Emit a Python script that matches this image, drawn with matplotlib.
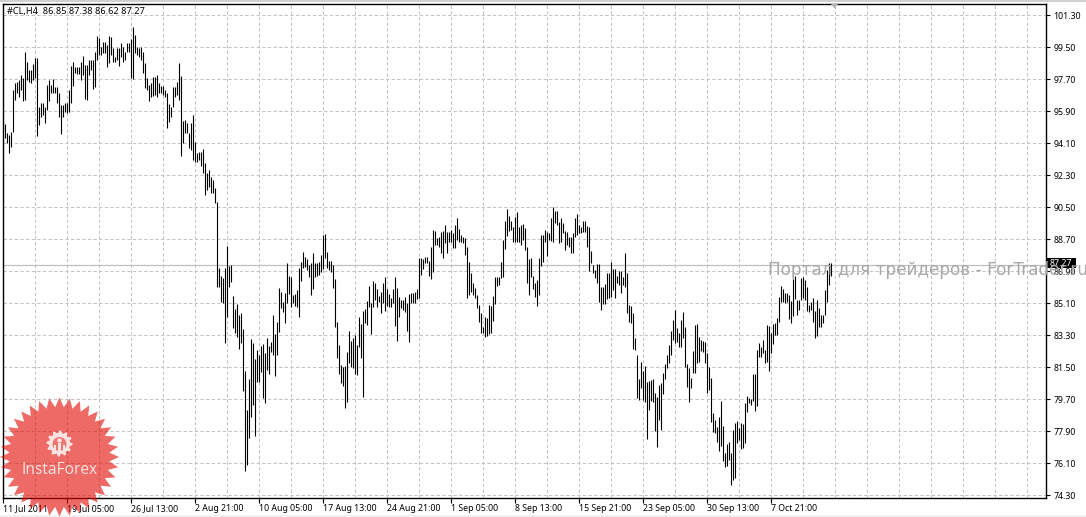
import numpy as np
import matplotlib
matplotlib.use("Agg")
import matplotlib.pyplot as plt
from matplotlib.patches import Polygon, Circle, Rectangle

W, H = 1086, 517
FONT = "Noto Sans"

bar_high = [
95.22,95.18,94.70,94.57,94.75,97.10,97.47,97.57,97.66,97.94,97.75,99.25,98.69,98.22,98.22,98.56,98.88,98.88,96.16,96.35,96.38,96.16,97.38,97.66,97.38,97.72,97.28,97.25,96.91,96.25,96.25,96.35,96.35,97.10,98.45,98.69,98.41,98.41,98.41,98.69,99.01,98.50,98.50,98.78,98.78,98.78,99.25,100.13,100.00,99.53,99.82,99.82,99.63,100.13,100.06,99.44,98.97,99.44,99.44,99.72,99.53,99.25,99.72,99.72,99.95,100.62,100.19,99.53,99.48,99.53,99.25,98.60,97.75,97.38,97.47,97.81,97.85,97.94,97.47,97.32,97.32,97.10,96.91,96.31,96.12,97.25,97.28,97.57,98.63,97.88,95.37,95.41,95.26,94.66,95.22,95.69,94.19,93.57,93.63,93.63,93.76,93.01,92.41,92.60,92.22,92.03,91.57,90.82,
87.07,86.64,86.51,87.07,88.33,87.20,87.26,85.51,84.76,85.06,84.45,84.54,83.64,81.30,79.10,80.83,83.08,82.85,81.95,82.48,82.20,82.70,82.81,82.29,83.13,82.70,82.95,84.45,83.38,84.07,85.95,85.76,85.20,85.70,87.35,86.64,86.56,85.57,85.63,85.85,87.07,87.45,88.01,87.69,87.58,87.26,87.35,87.91,87.35,87.35,87.45,87.82,88.95,89.00,88.01,87.50,87.50,87.26,86.45,84.07,82.76,81.63,81.54,81.58,82.35,83.55,83.00,83.13,83.32,82.76,84.35,83.94,84.69,84.76,85.23,86.08,85.14,86.38,86.26,85.89,85.51,85.76,86.23,86.56,85.89,85.63,85.38,85.89,86.60,85.95,85.48,85.29,85.29,85.44,85.10,85.63,85.66,85.70,85.76,85.89,87.63,87.63,87.58,87.69,87.69,87.50,88.25,89.23,89.19,88.76,88.85,89.13,89.19,89.51,89.13,89.13,89.23,89.04,89.51,89.88,89.26,88.95,88.85,88.76,88.29,87.45,86.79,86.26,85.95,85.57,85.01,
84.57,83.78,84.31,84.25,85.00,84.94,85.51,86.56,86.56,86.56,87.44,88.66,89.74,90.40,90.01,89.74,89.41,89.97,90.25,89.37,89.50,89.56,89.35,88.28,87.57,87.63,86.63,86.26,86.41,87.63,88.94,88.94,89.22,89.13,89.07,89.89,90.53,90.31,90.31,89.69,89.88,89.63,89.18,89.13,88.84,88.84,89.07,89.88,90.12,89.50,89.41,89.73,89.73,89.44,89.37,88.06,87.25,86.97,87.31,87.31,86.03,86.03,86.18,86.82,86.82,87.44,87.01,87.01,86.63,86.91,86.91,86.56,87.94,86.78,85.00,84.94,84.57,83.13,
82.19,80.82,81.78,81.31,81.57,80.69,80.75,80.78,80.82,80.03,79.85,80.50,80.60,81.16,81.68,82.19,82.75,83.54,84.16,84.72,83.69,83.41,84.16,84.63,83.75,81.68,81.44,80.88,82.43,83.88,83.93,83.22,83.03,83.00,82.94,82.28,81.53,80.88,78.95,78.53,78.12,78.72,79.60,78.20,76.70,77.18,77.32,76.70,77.97,78.38,78.48,78.07,78.38,78.31,79.47,79.88,79.79,79.70,81.12,81.12,82.47,82.85,82.62,83.03,82.47,83.88,83.82,83.45,83.93,83.97,84.25,85.47,86.07,85.88,85.70,85.66,85.57,85.25,86.45,86.63,85.28,85.28,86.50,86.56,86.41,86.00,85.00,85.19,85.38,84.68,85.28,84.82,84.44,84.44,85.85,86.97,87.35,87.38,
]
bar_low = [
94.81,94.38,94.10,93.53,93.91,94.75,96.53,96.91,96.72,97.10,96.50,96.53,97.66,97.57,97.47,97.66,97.75,94.51,95.13,95.60,95.69,95.22,95.97,96.48,96.91,96.95,96.91,96.35,95.56,94.62,95.60,95.88,95.82,95.88,96.35,97.34,98.03,98.00,98.00,97.66,97.94,96.57,96.53,97.94,98.22,97.15,97.28,98.78,99.07,99.07,99.16,99.16,98.41,98.60,99.07,98.69,98.69,98.78,98.45,98.97,98.69,98.78,99.25,99.25,97.75,97.72,99.16,99.07,98.97,98.78,98.03,97.19,97.10,96.50,96.72,96.76,96.82,96.72,96.91,96.91,96.82,96.72,94.94,95.32,95.60,96.16,96.72,96.82,96.53,93.40,94.10,94.66,94.66,93.82,93.72,93.16,93.07,93.07,93.16,92.84,92.41,91.19,91.47,91.66,91.28,91.28,90.72,86.04,
86.04,85.20,85.10,82.89,84.35,86.04,86.32,83.70,83.45,83.19,82.51,82.85,80.19,75.69,76.01,77.51,78.69,79.38,77.64,80.70,80.70,81.26,79.76,79.51,81.35,81.13,82.38,82.20,81.03,82.20,83.51,84.82,84.63,84.01,85.10,85.63,84.91,85.10,84.95,84.88,84.35,86.38,87.07,87.16,86.98,86.56,85.57,85.91,86.56,86.64,86.70,86.88,87.01,87.63,87.07,86.98,86.88,85.95,83.79,82.01,81.13,80.60,80.47,79.20,79.57,81.73,81.54,81.45,81.13,81.07,82.66,82.01,79.81,83.98,83.88,84.88,83.38,84.88,85.29,84.91,85.20,84.54,85.14,84.69,84.95,84.91,84.88,85.10,83.83,83.00,84.35,84.82,84.73,84.63,83.56,82.95,85.10,85.10,85.14,85.33,85.38,86.70,87.01,87.35,87.35,86.64,86.45,86.88,88.38,88.38,88.29,87.91,87.63,88.48,87.91,88.57,88.57,88.20,88.20,88.66,88.57,88.57,88.48,87.82,85.38,85.57,85.76,85.57,85.38,84.82,84.07,
83.44,83.44,83.18,83.26,83.37,83.41,84.12,85.06,86.07,86.13,86.50,86.56,88.13,88.88,89.18,89.22,88.56,88.56,88.56,88.56,88.38,88.66,88.09,86.26,85.56,86.56,85.88,85.43,84.96,85.56,87.19,87.44,88.56,87.76,88.66,88.62,88.56,89.59,89.50,88.47,88.56,89.07,88.09,88.38,88.24,87.91,87.94,88.84,88.94,89.03,89.03,89.13,89.13,88.28,86.93,87.38,86.78,86.50,86.26,85.19,84.72,85.06,85.06,85.32,85.38,85.47,85.84,85.38,86.22,86.13,85.69,86.13,85.99,84.57,84.06,84.01,82.51,82.47,
79.75,79.66,80.32,79.66,79.57,77.47,79.10,79.62,79.53,77.93,77.03,78.53,77.97,80.00,80.82,81.44,81.76,82.19,83.03,82.85,82.94,82.62,82.66,83.13,81.50,80.41,79.57,80.32,81.16,81.16,81.72,81.82,82.43,82.38,81.76,80.03,80.22,78.44,77.88,77.82,77.32,76.81,77.07,76.25,75.91,75.95,76.28,74.88,75.16,75.25,77.26,77.41,76.88,76.94,77.22,79.00,79.47,79.38,79.60,79.06,79.32,82.10,82.10,82.28,81.76,81.82,81.31,82.28,82.81,83.32,83.32,84.07,85.19,85.19,85.10,85.19,84.20,83.97,84.38,85.32,84.44,84.72,85.28,85.38,85.28,84.68,84.63,84.72,84.07,83.13,83.26,83.75,83.75,84.01,84.44,85.19,86.13,86.62,
]
last_close = 87.27
price_ticks = [74.30,76.10,77.90,79.70,81.50,83.30,85.10,86.90,88.70,90.50,92.30,94.10,95.90,97.70,99.50,101.30]
date_labels = ["11 Jul 2011","19 Jul 05:00","26 Jul 13:00","2 Aug 21:00","10 Aug 05:00","17 Aug 13:00","24 Aug 21:00",
               "1 Sep 05:00","8 Sep 13:00","15 Sep 21:00","23 Sep 05:00","30 Sep 13:00","7 Oct 21:00"]
header = "#CL,H4  86.85 87.38 86.62 87.27"
watermark = "Портал для трейдеров - ForTrader.ru"
brand = "InstaForex"

fig = plt.figure(figsize=(W/100, H/100), dpi=100, facecolor="white")
L, R, T, B = 2.5, 1045.5, 3.5, 497.5
ax = fig.add_axes([L/W, 1-B/H, (R-L)/W, (B-T)/H])
px_per_bar = 2.0
x0_px = 3.33
ax.set_xlim((L-x0_px)/px_per_bar, (R-x0_px)/px_per_bar)
ppp = 1.8/32
ax.set_ylim(101.30-(B-15.3)*ppp, 101.30+(15.3-T)*ppp)
for s in ax.spines.values():
    s.set_linewidth(1.0); s.set_color("black")

grid_kw = dict(color="#c4c4c4", lw=0.75, dashes=(3.2, 2.2), zorder=1)
for p in price_ticks:
    ax.axhline(p, **grid_kw)
for i in range(16, 521, 16):
    ax.axvline(i, **grid_kw)

ax.axhline(last_close, color="#c0c0c0", lw=0.9, zorder=1.5)
idx = np.arange(len(bar_high))
ax.vlines(idx, bar_low, bar_high, color="black", lw=0.8, zorder=3)

ax.yaxis.tick_right()
ax.set_yticks(price_ticks, [f"{p:.2f}" for p in price_ticks], fontsize=6.3, family=FONT)
ax.tick_params(axis="y", length=3, width=0.8, pad=2.5, color="black")
xt = [32*k for k in range(len(date_labels))]
ax.set_xticks(xt, date_labels, fontsize=6.3, family=FONT, ha="left")
ax.tick_params(axis="x", length=3.5, width=0.8, pad=1.5, color="black")

# overlay in screen pixels for chart furniture
ov = fig.add_axes([0, 0, 1, 1], facecolor="none")
ov.set_xlim(0, W); ov.set_ylim(H, 0); ov.axis("off")

ov.add_patch(Rectangle((0, 514.5), W, 2.5, color="#f0f0f0", lw=0))
ov.add_patch(Rectangle((0, 0), W, 1.5, color="#d0d0d0", lw=0))
ov.text(7, 11.5, header, fontsize=6.6, family=FONT, va="center", ha="left", color="black")
ov.add_patch(Polygon([(830.5, 3.5), (838.5, 3.5), (834.5, 8.5)], color="#b4b4b4", lw=0))
ov.add_patch(Rectangle((1046.5, 258), 29.5, 10, color="black", lw=0, zorder=4))
ov.text(1061, 263, f"{last_close:.2f}", color="white", fontsize=6.3, family=FONT, ha="center", va="center", zorder=5)
ov.text(768, 270, watermark, color="#a8a8a8", fontsize=12.2, family="DejaVu Sans", ha="left", va="center", zorder=6)

# InstaForex badge: a translucent star that darkens whatever lies under it
cx, cy = 59.5, 457.0
n = 36
ang = np.linspace(0, 2*np.pi, 2*n, endpoint=False)
rad = np.where(np.arange(2*n) % 2 == 0, 59.5, 50.0)
ov.add_patch(Polygon(np.c_[cx+rad*np.cos(ang), cy+rad*np.sin(ang)], closed=True,
                     facecolor="#e30700", alpha=0.6, lw=0, zorder=7))
gx, gy = 59.5, 443.5
m = 12
a = np.linspace(0, 2*np.pi, 4*m, endpoint=False)
r = np.where(np.arange(4*m) % 4 < 2, 13.0, 10.5)
ov.add_patch(Polygon(np.c_[gx+r*np.cos(a), gy+r*np.sin(a)], closed=True, facecolor="#fbe3e1", lw=0, zorder=8))
ov.add_patch(Circle((gx, gy+0.5), 7.0, facecolor="#ee7570", lw=0, zorder=9))
ov.add_patch(Circle((gx, gy-3.0), 2.2, facecolor="#fbe3e1", lw=0, zorder=10))
ov.add_patch(Rectangle((gx-1.1, gy-1), 2.2, 11, facecolor="#fbe3e1", lw=0, zorder=10))
ov.add_patch(Rectangle((gx-5.5, gy+1), 2.2, 9, facecolor="#fbe3e1", lw=0, zorder=10))
ov.add_patch(Rectangle((gx+3.3, gy+1), 2.2, 9, facecolor="#fbe3e1", lw=0, zorder=10))
ov.text(cx, 469.5, brand, color="#fbe3e1", fontsize=11.2, family="Open Sans", ha="center", va="center", zorder=10)

fig.savefig("out.png", dpi=100, facecolor="white")
